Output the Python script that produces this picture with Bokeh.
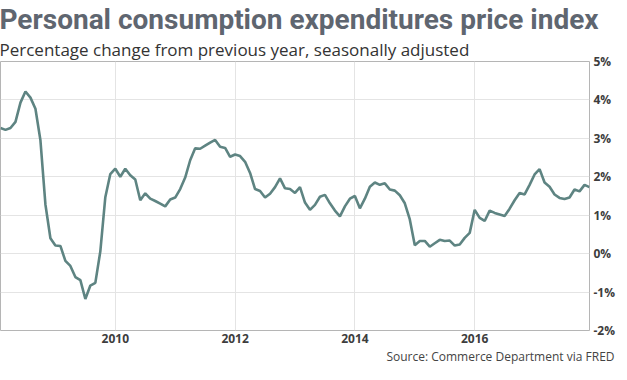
from bokeh.plotting import figure
from bokeh.models import Title, FixedTicker, Range1d
from bokeh.embed import file_html
from bokeh.resources import INLINE

# Monthly data: Feb 2008 .. Dec 2017 (PCE price index, % change y/y)
start_year = 2008
start_month = 2
pce_values = [
    3.27, 3.22, 3.27, 3.43, 3.93, 4.22, 4.06, 3.77, 2.95, 1.28, 0.40,            # 2008 Feb-Dec
    0.21, 0.20, -0.19, -0.32, -0.61, -0.69, -1.18, -0.83, -0.76, 0.06, 1.47, 2.07,  # 2009
    2.21, 2.00, 2.21, 2.04, 1.93, 1.39, 1.57, 1.43, 1.37, 1.30, 1.23, 1.41,      # 2010
    1.46, 1.68, 1.98, 2.43, 2.74, 2.73, 2.81, 2.89, 2.96, 2.78, 2.75, 2.52,      # 2011
    2.58, 2.54, 2.39, 2.10, 1.68, 1.63, 1.46, 1.56, 1.73, 1.96, 1.70, 1.68,      # 2012
    1.58, 1.73, 1.33, 1.14, 1.27, 1.48, 1.53, 1.31, 1.12, 0.97, 1.23, 1.43,      # 2013
    1.50, 1.18, 1.43, 1.74, 1.85, 1.79, 1.83, 1.67, 1.64, 1.52, 1.31, 0.89,      # 2014
    0.22, 0.33, 0.33, 0.18, 0.27, 0.36, 0.33, 0.34, 0.21, 0.24, 0.41, 0.54,      # 2015
    1.14, 0.93, 0.85, 1.12, 1.06, 1.02, 0.98, 1.17, 1.39, 1.58, 1.54, 1.79,      # 2016
    2.06, 2.20, 1.85, 1.74, 1.54, 1.45, 1.42, 1.46, 1.67, 1.62, 1.79, 1.73,      # 2017
]
x_ticks = [2010, 2012, 2014, 2016]
x_tick_labels = ["2010", "2012", "2014", "2016"]
y_ticks = [-2, -1, 0, 1, 2, 3, 4, 5]
y_tick_labels = ["-2%", "-1%", "0%", "1%", "2%", "3%", "4%", "5%"]

title_text = "Personal consumption expenditures price index"
subtitle_text = "Percentage change from previous year, seasonally adjusted"
source_text = "Source: Commerce Department via FRED"

# fractional-year positions for each month
xs = []
y, m = start_year, start_month
for _ in pce_values:
    xs.append(y + (m - 1) / 12)
    m += 1
    if m > 12:
        m = 1
        y += 1

p = figure(width=618, height=364, output_backend="svg", toolbar_location=None,
           y_axis_location="right",
           x_range=Range1d(xs[0], xs[-1]), y_range=Range1d(-2, 5),
           min_border=0, min_border_left=0, min_border_right=0,
           min_border_top=0, min_border_bottom=0)
p.title.visible = False

p.line(xs, pce_values, line_color="#5e8482", line_width=2.6)

p.outline_line_color = "#b5b5b5"
p.outline_line_width = 1
p.background_fill_color = "white"
p.border_fill_color = "white"

p.xgrid.ticker = FixedTicker(ticks=x_ticks)
p.ygrid.ticker = FixedTicker(ticks=y_ticks)
p.grid.grid_line_color = "#e4e4e4"
p.grid.grid_line_width = 1

xa = p.xaxis[0]
xa.ticker = FixedTicker(ticks=x_ticks)
xa.major_label_overrides = {t: l for t, l in zip(x_ticks, x_tick_labels)}
ya = p.yaxis[0]
ya.ticker = FixedTicker(ticks=y_ticks)
ya.major_label_overrides = {t: l for t, l in zip(y_ticks, y_tick_labels)}
for ax in (xa, ya):
    ax.axis_label = None
    ax.axis_label_standoff = 0
    ax.axis_line_color = None
    ax.major_tick_line_color = None
    ax.minor_tick_line_color = None
    ax.major_tick_out = 0
    ax.major_tick_in = 0
    ax.minor_tick_out = 0
    ax.minor_tick_in = 0
    ax.major_label_text_font = "Open Sans"
    ax.major_label_text_font_style = "bold"
    ax.major_label_text_font_size = "12px"
    ax.major_label_text_color = "#3d3d3d"
xa.major_label_standoff = 3
ya.major_label_standoff = 4

sub = Title(text=subtitle_text, text_font="Open Sans", text_font_size="17px",
            text_font_style="normal", text_color="#333333", align="left",
            offset=-1, standoff=1)
p.add_layout(sub, "above")
ttl = Title(text=title_text, text_font="Roboto", text_font_size="28px",
            text_font_style="bold", text_color="#5f6670", align="left",
            offset=-1, standoff=0)
p.add_layout(ttl, "above")

src = Title(text=source_text, text_font="Open Sans", text_font_size="12px",
            text_font_style="normal", text_color="#444444", align="right",
            offset=-25, standoff=0)
p.add_layout(src, "below")

open("out.html", "w").write(file_html(p, INLINE))
